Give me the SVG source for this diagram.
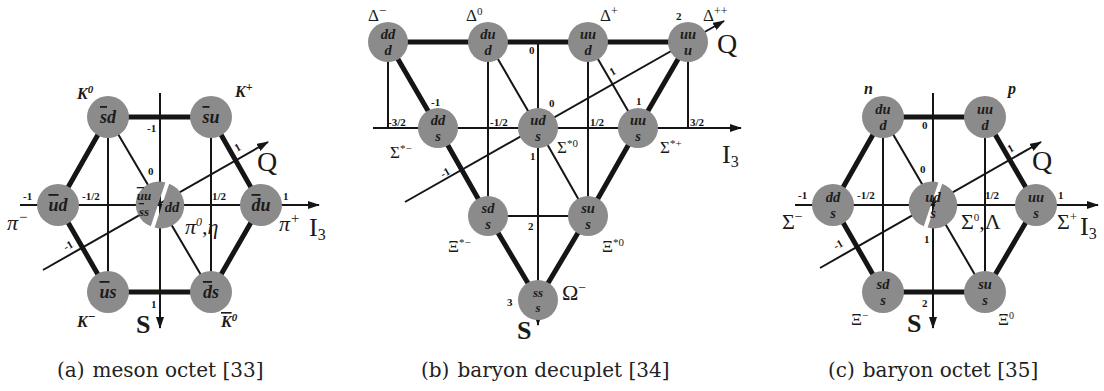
<svg xmlns="http://www.w3.org/2000/svg" width="1104" height="391" viewBox="0 0 1104 391">
<style>
.bg{fill:#ffffff}
.node{fill:#8b8b8b}
.thick{stroke:#151515;stroke-width:5;fill:none;stroke-linecap:butt}
.thin{stroke:#151515;stroke-width:2;fill:none}
.axis{stroke:#151515;stroke-width:2;fill:none;marker-end:url(#arr)}
.qk{font-family:"Liberation Serif",serif;font-style:italic;font-weight:bold;font-size:18px;fill:#1c1c1c;text-anchor:middle}
.qk2{font-family:"Liberation Serif",serif;font-style:italic;font-weight:bold;font-size:14.5px;fill:#1c1c1c;text-anchor:middle}
.qks{font-family:"Liberation Serif",serif;font-style:italic;font-weight:bold;font-size:13px;fill:#1c1c1c;text-anchor:middle}
.num{font-family:"Liberation Serif",serif;font-weight:bold;font-size:11px;fill:#151515}
.pl{font-family:"Liberation Serif",serif;font-style:italic;font-weight:bold;font-size:16px;fill:#1a1a1a}
.gr{font-family:"Liberation Serif",serif;font-size:22px;fill:#1a1a1a}
.grs{font-family:"Liberation Serif",serif;font-size:17px;fill:#1a1a1a}
.big{font-family:"Liberation Serif",serif;font-weight:bold;font-size:26px;fill:#1a1a1a}
.i3{font-family:"Liberation Serif",serif;font-size:26px;fill:#1a1a1a}
.qq{font-family:"Liberation Serif",serif;font-size:28px;fill:#1a1a1a}
.cap{font-family:"DejaVu Serif",serif;font-size:20px;fill:#222222}
.ov{text-decoration:overline}
</style>
<defs>
<marker id="arr" markerWidth="12" markerHeight="8" refX="11" refY="4" orient="auto" markerUnits="userSpaceOnUse">
<path d="M0,0 L12,4 L0,8 Z" fill="#151515"/>
</marker>
</defs>
<rect class="bg" x="0" y="0" width="1104" height="391"/>

<!-- ===== Panel (a) connectors ===== -->
<g id="connectors-a">
<path class="thick" d="M108 117 L211 117 M108 117 L58 205 M58 205 L108 292 M108 292 L211 292 M211 292 L261 205 M261 205 L211 117"/>
<path class="thin" d="M108 117 L108 292 M211 117 L211 292 M108 117 L211 292"/>
<path class="axis" d="M20 205 L319 205"/>
<path class="axis" d="M160 93 L160 328"/>
<path class="axis" d="M43 270 L268 142"/>
</g>

<!-- ===== Panel (b) connectors ===== -->
<g id="connectors-b">
<path class="thick" d="M388 42 L688 42 M388 42 L438 128 M438 128 L488 216 M488 216 L538 300 M538 300 L588 216 M588 216 L638 128 M638 128 L688 42"/>
<path class="thin" d="M388 42 L388 128 M488 42 L488 216 M588 42 L588 216 M688 42 L688 128 M488 42 L538 128 M588 42 L638 128 M538 128 L588 216 M488 216 L588 216"/>
<path class="axis" d="M373 128 L741 128"/>
<path class="axis" d="M538 42 L538 325"/>
<path class="axis" d="M405 202 L724 21"/>
</g>

<!-- ===== Panel (c) connectors ===== -->
<g id="connectors-c">
<path class="thick" d="M883 117 L985 117 M883 117 L833 205 M833 205 L883 292 M883 292 L985 292 M985 292 L1036 205 M1036 205 L985 117"/>
<path class="thin" d="M883 117 L883 292 M985 117 L985 292 M883 117 L985 292"/>
<path class="axis" d="M795 205 L1098 205"/>
<path class="axis" d="M933 93 L933 328"/>
<path class="axis" d="M820 268 L1041 142"/>
</g>

<!-- ===== Panel (a) nodes ===== -->
<g id="a-K0"><circle class="node" cx="108" cy="117" r="21"/><text class="qk" x="108" y="123"><tspan class="ov">s</tspan>d</text><text class="pl" x="77" y="99">K<tspan font-size="11" dy="-6">0</tspan></text></g>
<g id="a-Kplus"><circle class="node" cx="211" cy="117" r="21"/><text class="qk" x="211" y="123"><tspan class="ov">s</tspan>u</text><text class="pl" x="235" y="97">K<tspan font-size="12" dy="-6">+</tspan></text></g>
<g id="a-piminus"><circle class="node" cx="58" cy="205" r="21"/><text class="qk" x="58" y="211"><tspan class="ov">u</tspan>d</text><text class="gr" x="7" y="230" font-style="italic">π<tspan font-size="15" dy="-8">−</tspan></text></g>
<g id="a-piplus"><circle class="node" cx="261" cy="205" r="21"/><text class="qk" x="261" y="211"><tspan class="ov">d</tspan>u</text><text class="gr" x="279" y="231" font-style="italic">π<tspan font-size="15" dy="-8">+</tspan></text></g>
<g id="a-center">
<path class="node" d="M165.4 182.6 A23 23 0 0 0 150.8 226.2 Z"/>
<path class="node" d="M169.2 183.8 L154.6 227.4 A23 23 0 0 0 169.2 183.8 Z"/>
<text class="qks" x="144" y="200"><tspan class="ov">u</tspan>u</text>
<text class="qks" x="144" y="216"><tspan class="ov">s</tspan>s</text>
<text class="qk2" x="172" y="212" font-size="17">dd</text>
<text class="gr" x="185" y="234" font-style="italic">π<tspan font-size="12" dy="-8">0</tspan><tspan dy="8">,η</tspan></text>
</g>
<g id="a-Kminus"><circle class="node" cx="108" cy="292" r="21"/><text class="qk" x="108" y="298"><tspan class="ov">u</tspan>s</text><text class="pl" x="77" y="327">K<tspan font-size="13" dy="-6">−</tspan></text></g>
<g id="a-K0bar"><circle class="node" cx="211" cy="292" r="21"/><text class="qk" x="211" y="298"><tspan class="ov">d</tspan>s</text><text class="pl" x="221" y="327"><tspan class="ov">K</tspan><tspan font-size="11" dy="-6">0</tspan></text></g>

<!-- Panel (a) axis labels -->
<g id="a-labels">
<text class="num" x="23" y="200">-1</text>
<text class="num" x="82" y="200">-1/2</text>
<text class="num" x="212" y="200">1/2</text>
<text class="num" x="283" y="200">1</text>
<text class="num" x="147" y="132">-1</text>
<text class="num" x="148" y="175">0</text>
<text class="num" x="151" y="308">1</text>
<text class="num" transform="translate(237,152) rotate(-30)">1</text>
<text class="num" transform="translate(66,251) rotate(-30)">-1</text>
<text class="qq" x="257" y="171">Q</text>
<text class="i3" x="309" y="236">I<tspan font-size="16" dy="4">3</tspan></text>
<text class="big" x="136" y="333">S</text>
</g>

<!-- ===== Panel (b) nodes ===== -->
<g id="b-Dminus"><circle class="node" cx="388" cy="42" r="20"/><text class="qk2" x="388" y="39">dd</text><text class="qk2" x="388" y="55">d</text><text class="grs" x="368" y="21">Δ<tspan font-size="13" dy="-6">−</tspan></text></g>
<g id="b-D0"><circle class="node" cx="488" cy="42" r="20"/><text class="qk2" x="488" y="39">du</text><text class="qk2" x="488" y="55">d</text><text class="grs" x="466" y="21">Δ<tspan font-size="11" dy="-6">0</tspan></text></g>
<g id="b-Dplus"><circle class="node" cx="588" cy="42" r="20"/><text class="qk2" x="588" y="39">uu</text><text class="qk2" x="588" y="55">d</text><text class="grs" x="600" y="21">Δ<tspan font-size="12" dy="-6">+</tspan></text></g>
<g id="b-Dplusplus"><circle class="node" cx="688" cy="42" r="20"/><text class="qk2" x="688" y="39">uu</text><text class="qk2" x="688" y="55">u</text><text class="grs" x="703" y="21">Δ<tspan font-size="12" dy="-6">++</tspan></text></g>
<g id="b-Sminus"><circle class="node" cx="438" cy="128" r="20"/><text class="qk2" x="438" y="125">dd</text><text class="qk2" x="438" y="141">s</text><text class="grs" x="390" y="158">Σ<tspan font-size="11" dy="-6">*−</tspan></text></g>
<g id="b-S0"><circle class="node" cx="538" cy="128" r="20"/><text class="qk2" x="538" y="125">ud</text><text class="qk2" x="538" y="141">s</text><text class="grs" x="557" y="153">Σ<tspan font-size="11" dy="-6">*0</tspan></text></g>
<g id="b-Splus"><circle class="node" cx="638" cy="128" r="20"/><text class="qk2" x="638" y="125">uu</text><text class="qk2" x="638" y="141">s</text><text class="grs" x="660" y="153">Σ<tspan font-size="11" dy="-6">*+</tspan></text></g>
<g id="b-Ximinus"><circle class="node" cx="488" cy="216" r="20"/><text class="qk2" x="488" y="213">sd</text><text class="qk2" x="488" y="229">s</text><text class="grs" x="448" y="252">Ξ<tspan font-size="11" dy="-6">*−</tspan></text></g>
<g id="b-Xi0"><circle class="node" cx="588" cy="216" r="20"/><text class="qk2" x="588" y="213">su</text><text class="qk2" x="588" y="229">s</text><text class="grs" x="602" y="252">Ξ<tspan font-size="11" dy="-6">*0</tspan></text></g>
<g id="b-Omega"><circle class="node" cx="538" cy="300" r="20"/><text class="qks" x="538" y="297">ss</text><text class="qks" x="538" y="312">s</text><text class="gr" x="562" y="300" font-size="20">Ω<tspan font-size="14" dy="-8">−</tspan></text></g>

<g id="b-labels">
<text class="num" x="388" y="126">-3/2</text>
<text class="num" x="490" y="126">-1/2</text>
<text class="num" x="590" y="126">1/2</text>
<text class="num" x="690" y="126">3/2</text>
<text class="num" x="431" y="106">-1</text>
<text class="num" x="549" y="107">0</text>
<text class="num" x="636" y="105">1</text>
<text class="num" x="676" y="20">2</text>
<text class="num" x="529" y="54">0</text>
<text class="num" x="530" y="160">1</text>
<text class="num" x="528" y="230">2</text>
<text class="num" x="507" y="306">3</text>
<text class="num" transform="translate(612,76) rotate(-30)">1</text>
<text class="num" transform="translate(443,178) rotate(-30)">-1</text>
<text class="qq" x="717" y="53">Q</text>
<text class="i3" x="722" y="163">I<tspan font-size="16" dy="4">3</tspan></text>
<text class="big" x="517" y="339">S</text>
</g>

<!-- ===== Panel (c) nodes ===== -->
<g id="c-n"><circle class="node" cx="883" cy="117" r="21"/><text class="qk2" x="883" y="114">du</text><text class="qk2" x="883" y="130">d</text><text class="pl" x="864" y="94">n</text></g>
<g id="c-p"><circle class="node" cx="985" cy="117" r="21"/><text class="qk2" x="985" y="114">uu</text><text class="qk2" x="985" y="130">d</text><text class="pl" x="1008" y="94">p</text></g>
<g id="c-Sminus"><circle class="node" cx="833" cy="205" r="21"/><text class="qk2" x="833" y="202">dd</text><text class="qk2" x="833" y="218">s</text><text class="gr" x="782" y="229" font-size="20">Σ<tspan font-size="14" dy="-8">−</tspan></text></g>
<g id="c-center">
<path class="node" d="M938.4 182.6 A23 23 0 0 0 923.8 226.2 Z"/>
<path class="node" d="M942.2 183.8 L927.6 227.4 A23 23 0 0 0 942.2 183.8 Z"/>
<text class="qk2" x="933" y="202">ud</text>
<text class="qk2" x="933" y="218">s</text>
<text class="gr" x="961" y="229" font-size="20">Σ<tspan font-size="11" dy="-8">0</tspan><tspan dy="8">,Λ</tspan></text>
</g>
<g id="c-Splus"><circle class="node" cx="1036" cy="205" r="21"/><text class="qk2" x="1036" y="202">uu</text><text class="qk2" x="1036" y="218">s</text><text class="gr" x="1057" y="229" font-size="20">Σ<tspan font-size="13" dy="-8">+</tspan></text></g>
<g id="c-Ximinus"><circle class="node" cx="883" cy="292" r="21"/><text class="qk2" x="883" y="289">sd</text><text class="qk2" x="883" y="305">s</text><text class="grs" x="851" y="325">Ξ<tspan font-size="11" dy="-6">−</tspan></text></g>
<g id="c-Xi0"><circle class="node" cx="985" cy="292" r="21"/><text class="qk2" x="985" y="289">su</text><text class="qk2" x="985" y="305">s</text><text class="grs" x="998" y="325">Ξ<tspan font-size="10" dy="-6">0</tspan></text></g>

<g id="c-labels">
<text class="num" x="798" y="199">-1</text>
<text class="num" x="857" y="199">-1/2</text>
<text class="num" x="985" y="199">1/2</text>
<text class="num" x="1058" y="199">1</text>
<text class="num" x="922" y="129">0</text>
<text class="num" x="920" y="173">0</text>
<text class="num" x="924" y="243">1</text>
<text class="num" x="922" y="307">2</text>
<text class="num" transform="translate(1010,153) rotate(-30)">1</text>
<text class="num" transform="translate(836,250) rotate(-30)">-1</text>
<text class="qq" x="1032" y="170">Q</text>
<text class="i3" x="1080" y="235">I<tspan font-size="16" dy="4">3</tspan></text>
<text class="big" x="907" y="332">S</text>
</g>

<!-- captions -->
<text class="cap" x="57" y="377">(a)<tspan dx="8">meson octet [33]</tspan></text>
<text class="cap" x="421" y="377">(b)<tspan dx="8">baryon decuplet [34]</tspan></text>
<text class="cap" x="828" y="377">(c)<tspan dx="8">baryon octet [35]</tspan></text>
</svg>
